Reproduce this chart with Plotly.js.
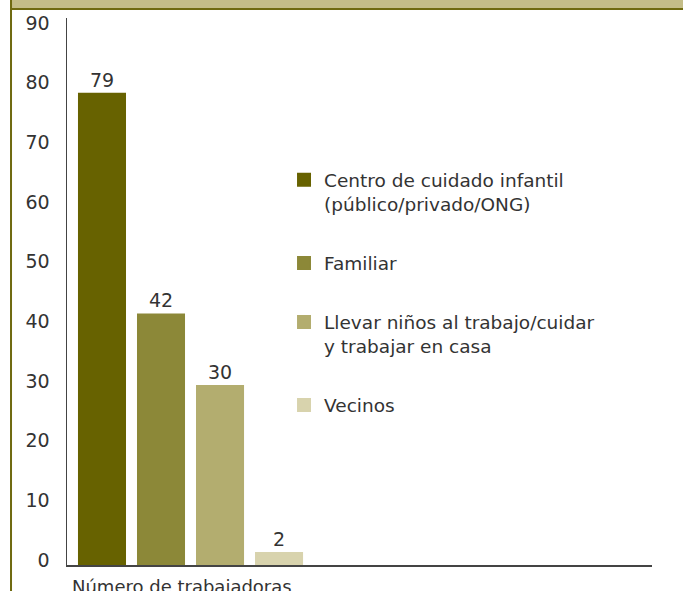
<!DOCTYPE html>
<html>
<head>
<meta charset="utf-8">
<script src="https://cdn.plot.ly/plotly-3.0.1.min.js"></script>
<style>html,body{margin:0;padding:0;background:#fff;}#chart{width:683px;height:591px;}</style>
</head>
<body>
<div id="chart"></div>
<script>
var categories = ["Centro de cuidado infantil<br>(público/privado/ONG)", "Familiar", "Llevar niños al trabajo/cuidar<br>y trabajar en casa", "Vecinos"];
var values = [79, 42, 30, 2];
var colors = ["#676200", "#8c8838", "#b3ad6f", "#d8d3ad"];
var xTitle = "Número de trabajadoras";

var traces = categories.map(function (name, i) {
  return {
    type: "bar",
    name: name,
    x: [i + 1],
    y: [values[i]],
    width: 0.78,
    marker: {color: colors[i], line: {color: colors[i], width: 2}},
    text: [String(values[i])],
    textposition: "outside",
    cliponaxis: false,
    textfont: {family: "DejaVu Sans", size: 19, color: "#333"},
    legendgroup: "g" + i,
    hoverinfo: "y+name"
  };
});

var olive = "#6f6a10";
var layout = {
  width: 683, height: 591,
  margin: {l: 67, r: 31, t: 18, b: 26},
  paper_bgcolor: "#fff", plot_bgcolor: "#fff",
  font: {family: "DejaVu Sans", size: 18, color: "#333"},
  showlegend: true,
  legend: {
    x: 0.371, y: 0.738, xanchor: "left", yanchor: "top",
    font: {family: "DejaVu Sans", size: 18.5, color: "#333"},
    valign: "top", tracegroupgap: 32, bgcolor: "rgba(0,0,0,0)"
  },
  bargap: 0.2,
  xaxis: {
    range: [0.407, 10.32], showgrid: false, zeroline: false,
    showticklabels: false, ticks: "", showline: true,
    linecolor: "#444", linewidth: 1.5, fixedrange: true
  },
  yaxis: {
    range: [0, 91.7], tickvals: [0,10,20,30,40,50,60,70,80,90],
    showgrid: false, zeroline: false, ticks: "", showline: true,
    linecolor: "#444", linewidth: 1.5, ticklabelstandoff: 12, ticklabelshift: -5,
    tickfont: {family: "DejaVu Sans", size: 19, color: "#333"}, fixedrange: true
  },
  annotations: [{
    text: xTitle, xref: "paper", yref: "paper", x: 0.005, y: -0.016,
    xanchor: "left", yanchor: "top", showarrow: false,
    font: {family: "DejaVu Sans", size: 18, color: "#333"}
  }],
  shapes: [
    {type: "rect", xref: "paper", yref: "paper", x0: -0.0957, x1: 1.06, y0: 1.0183, y1: 1.05,
     fillcolor: "#c4bd88", line: {width: 0}, layer: "below"},
    {type: "line", xref: "paper", yref: "paper", x0: -0.0957, x1: 1.06, y0: 1.0165, y1: 1.0165,
     line: {color: olive, width: 2}},
    {type: "line", xref: "paper", yref: "paper", x0: -0.0957, x1: -0.0957, y0: -0.06, y1: 1.05,
     line: {color: olive, width: 2}}
  ]
};

Plotly.newPlot("chart", traces, layout, {displayModeBar: false, staticPlot: true});
</script>
</body>
</html>
